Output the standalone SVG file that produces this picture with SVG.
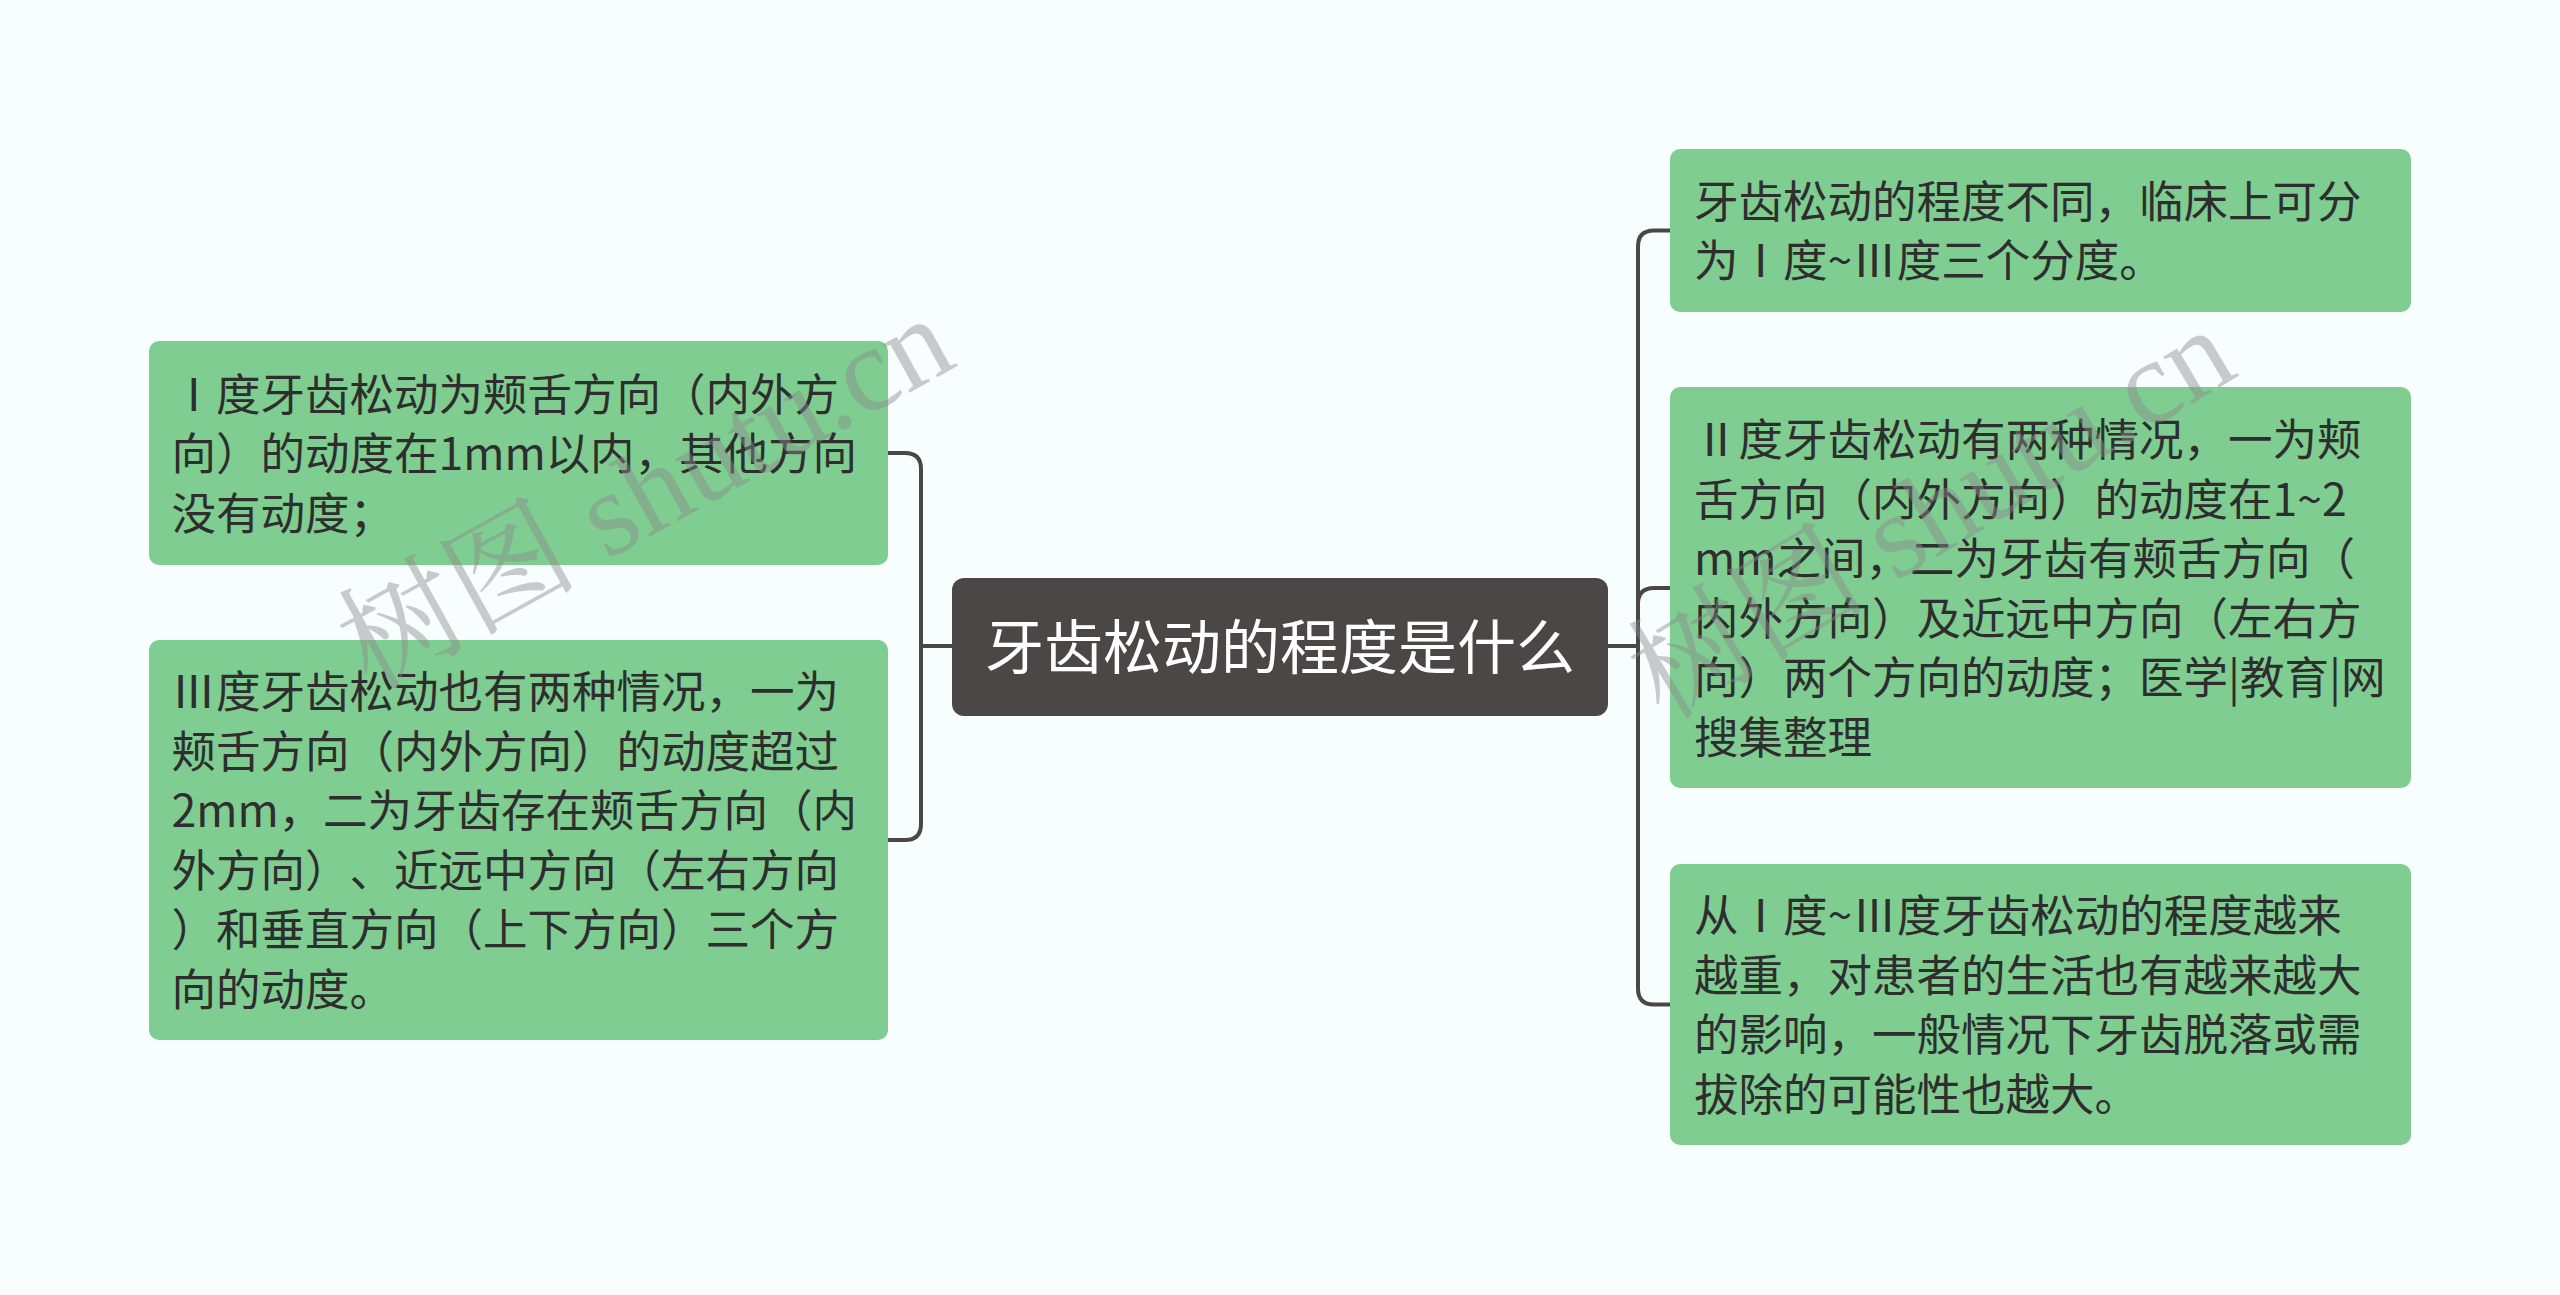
<svg xmlns="http://www.w3.org/2000/svg" width="2560" height="1295" viewBox="0 0 2560 1295">
<style>
.bg{fill:#F8FDFE}
.leaf{fill:#7FCD91}
.root{fill:#4C4747}
.t{font-family:"Noto Sans CJK SC","Microsoft YaHei",sans-serif;font-size:44.5px;fill:#2E2E2E;text-spacing-trim:space-all;font-feature-settings:"halt" 0,"chws" 0}
.rt{font-family:"Noto Sans CJK SC","Microsoft YaHei",sans-serif;font-size:59px;fill:#FFFFFF}
.con{fill:none;stroke:#4C4747;stroke-width:4;stroke-linecap:round}
.wm{font-family:"Liberation Serif","Noto Serif CJK SC","Noto Sans CJK SC",serif;font-size:120px;fill:#8C8C8C;fill-opacity:0.45}
</style>
<rect class="bg" x="0" y="0" width="2560" height="1295"/>
<g id="connectors">
<path class="con" d="M952,646 H921 V469 Q921,453 905,453 H888"/>
<path class="con" d="M952,646 H921 V824 Q921,840 905,840 H888"/>
<path class="con" d="M1608,646 H1638 V246.5 Q1638,230.5 1654,230.5 H1670"/>
<path class="con" d="M1608,646 H1638 V604 Q1638,588 1654,588 H1670"/>
<path class="con" d="M1608,646 H1638 V988.5 Q1638,1004.5 1654,1004.5 H1670"/>
</g>
<g id="root">
<rect class="root" x="952" y="578" width="656" height="138" rx="12"/>
<text class="rt" x="1280" y="669" text-anchor="middle">牙齿松动的程度是什么</text>
</g>
<g id="left1">
<rect class="leaf" x="149" y="341" width="739" height="224" rx="10"/>
<text class="t"><tspan x="171.5" y="410.5">Ⅰ度牙齿松动为颊舌方向（内外方</tspan><tspan x="171.5" y="470">向）的动度在1mm以内，其他方向</tspan><tspan x="171.5" y="529.5">没有动度；</tspan></text>
</g>
<g id="left2">
<rect class="leaf" x="149" y="640" width="739" height="400" rx="10"/>
<text class="t"><tspan x="171.5" y="708">Ⅲ度牙齿松动也有两种情况，一为</tspan><tspan x="171.5" y="768">颊舌方向（内外方向）的动度超过</tspan><tspan x="171.5" y="827">2mm，二为牙齿存在颊舌方向（内</tspan><tspan x="171.5" y="887">外方向）、近远中方向（左右方向</tspan><tspan x="171.5" y="946">）和垂直方向（上下方向）三个方</tspan><tspan x="171.5" y="1006">向的动度。</tspan></text>
</g>
<g id="right1">
<rect class="leaf" x="1670" y="149" width="741" height="163" rx="10"/>
<text class="t"><tspan x="1694" y="218">牙齿松动的程度不同，临床上可分</tspan><tspan x="1694" y="277">为Ⅰ度~Ⅲ度三个分度。</tspan></text>
</g>
<g id="right2">
<rect class="leaf" x="1670" y="387" width="741" height="401" rx="10"/>
<text class="t"><tspan x="1694" y="456">Ⅱ度牙齿松动有两种情况，一为颊</tspan><tspan x="1694" y="516">舌方向（内外方向）的动度在1~2</tspan><tspan x="1694" y="575">mm之间，二为牙齿有颊舌方向（</tspan><tspan x="1694" y="635">内外方向）及近远中方向（左右方</tspan><tspan x="1694" y="694">向）两个方向的动度；医学|教育|网</tspan><tspan x="1694" y="754">搜集整理</tspan></text>
</g>
<g id="right3">
<rect class="leaf" x="1670" y="864" width="741" height="281" rx="10"/>
<text class="t"><tspan x="1694" y="932">从Ⅰ度~Ⅲ度牙齿松动的程度越来</tspan><tspan x="1694" y="992">越重，对患者的生活也有越来越大</tspan><tspan x="1694" y="1051">的影响，一般情况下牙齿脱落或需</tspan><tspan x="1694" y="1111">拔除的可能性也越大。</tspan></text>
</g>
<g id="watermarks">
<text class="wm" x="665" y="528" text-anchor="middle" transform="rotate(-29 665 528)">树图 shutu.cn</text>
<text class="wm" x="1952" y="548" text-anchor="middle" transform="rotate(-31 1952 548)">树图 shutu.cn</text>
</g>
</svg>
